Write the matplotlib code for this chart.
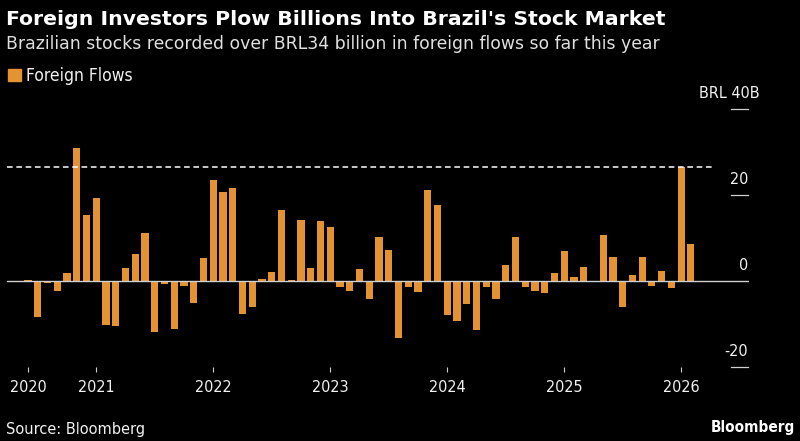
import matplotlib
matplotlib.use("Agg")
import matplotlib.pyplot as plt
import matplotlib.transforms as mtransforms
import pandas as pd

# ---- data ----
months = pd.period_range("2020-06", "2026-02", freq="M")
flows = [0.3, -8.3, -0.4, -2.3, 1.9, 30.9, 15.4,
         19.3, -10.2, -10.6, 3.0, 6.3, 11.2, -11.8, -0.7, -11.1, -1.3, -5.1, 5.3,
         23.6, 20.8, 21.7, -7.6, -6.1, 0.4, 2.1, 16.5, 0.1, 14.3, 3.0, 13.9,
         12.6, -1.5, -2.3, 2.7, -4.3, 10.3, 7.2, -13.2, -1.5, -2.7, 21.3, 17.7,
         -7.9, -9.3, -5.4, -11.4, -1.5, -4.2, 3.7, 10.2, -1.5, -2.4, -2.9, 1.9,
         6.9, 0.9, 3.2, -0.1, 10.7, 5.5, -6.2, 1.4, 5.5, -1.2, 2.3, -1.6,
         26.5, 8.6]
year_labels = ["2020", "2021", "2022", "2023", "2024", "2025", "2026"]
ytick_values = [40, 20, 0, -20]
ytick_labels = ["BRL 40B", "20", "0", "-20"]
highlight_level = 26.5

title = "Foreign Investors Plow Billions Into Brazil's Stock Market"
subtitle = "Brazilian stocks recorded over BRL34 billion in foreign flows so far this year"
legend_label = "Foreign Flows"
source = "Source: Bloomberg"

# ---- style ----
BG = "#000000"
BAR = "#E39332"
TXT = "#F2F2F2"
GREY = "#D0D0D0"
W, H = 800, 441

fig = plt.figure(figsize=(W / 100, H / 100), dpi=100, facecolor=BG)

def fx(x):
    return x / W

def fy(y):
    return 1 - y / H

x_pos = list(range(len(flows)))
# axes geometry (pixels)
ax_l, ax_r, ax_t, ax_b = 7, 749, 109.3, 366.7
ax = fig.add_axes([fx(ax_l), fy(ax_b), (ax_r - ax_l) / W, (ax_b - ax_t) / H])
ax.set_facecolor(BG)
ax.bar(x_pos, flows, width=0.72, color=BAR, zorder=2)
ax.set_xlim(-2.154, 73.95)
ax.set_ylim(-20, 40)

for s in ax.spines.values():
    s.set_visible(False)

# zero line
ax.axhline(0, xmin=0, xmax=0.9987, color=GREY, lw=1.0, zorder=3)
# dashed highlight line
ax.axhline(highlight_level, xmin=0, xmax=(713 - ax_l) / (ax_r - ax_l), color="white",
           lw=1.1, dashes=(3.7, 2.4), zorder=3)

# y ticks: short lines on right with labels above
tick_x0 = (731 - ax_l) / (ax_r - ax_l)
for v in ytick_values:
    if v != 0:
        ax.axhline(v, xmin=tick_x0, xmax=0.9987, color=GREY, lw=0.9, zorder=3, clip_on=False)
ytrans = mtransforms.offset_copy(ax.get_yaxis_transform(), fig=fig, x=0, y=11 / 100 * 72, units="points")
for v, lab in zip(ytick_values, ytick_labels):
    xa = 1.0146 if lab.startswith("BRL") else 0.9987
    ax.text(xa, v, lab, transform=ytrans, ha="right", va="baseline",
            color=TXT, fontsize=11.5, family="DejaVu Sans", fontstretch="condensed")
ax.set_yticks([])

# x ticks at first bar and each January
tick_idx = [0] + [i for i, m in enumerate(months) if m.month == 1]
ax.set_xticks(tick_idx)
ax.set_xticklabels(year_labels, color=TXT, fontsize=11.5, family="DejaVu Sans",
                   fontstretch="condensed")
ax.tick_params(axis="x", length=3.6, width=0.8, color=GREY, pad=6)

# ---- header texts ----
fig.text(fx(6), fy(25), title, color="white", fontsize=14.7, fontweight="bold",
         family="DejaVu Sans", va="baseline", ha="left")
fig.text(fx(6), fy(49.3), subtitle, color="#E0E0E0", fontsize=12.4,
         family="DejaVu Sans", va="baseline", ha="left")
fig.patches.append(plt.Rectangle((fx(8), fy(81)), 12.5 / W, 12 / H, transform=fig.transFigure,
                                 color=BAR))
fig.text(fx(26.5), fy(81), legend_label, color=TXT, fontsize=12.5,
         family="DejaVu Sans", fontstretch="condensed", va="baseline", ha="left")

# ---- footer ----
fig.text(fx(6.5), fy(433.7), source, color=TXT, fontsize=11.7,
         family="DejaVu Sans", fontstretch="condensed", va="baseline", ha="left")
fig.text(fx(794.5), fy(432.3), "Bloomberg", color="white", fontsize=11, fontweight="bold",
         family="DejaVu Sans", fontstretch="condensed", va="baseline", ha="right")

fig.savefig("out.png", dpi=100, facecolor=BG)
